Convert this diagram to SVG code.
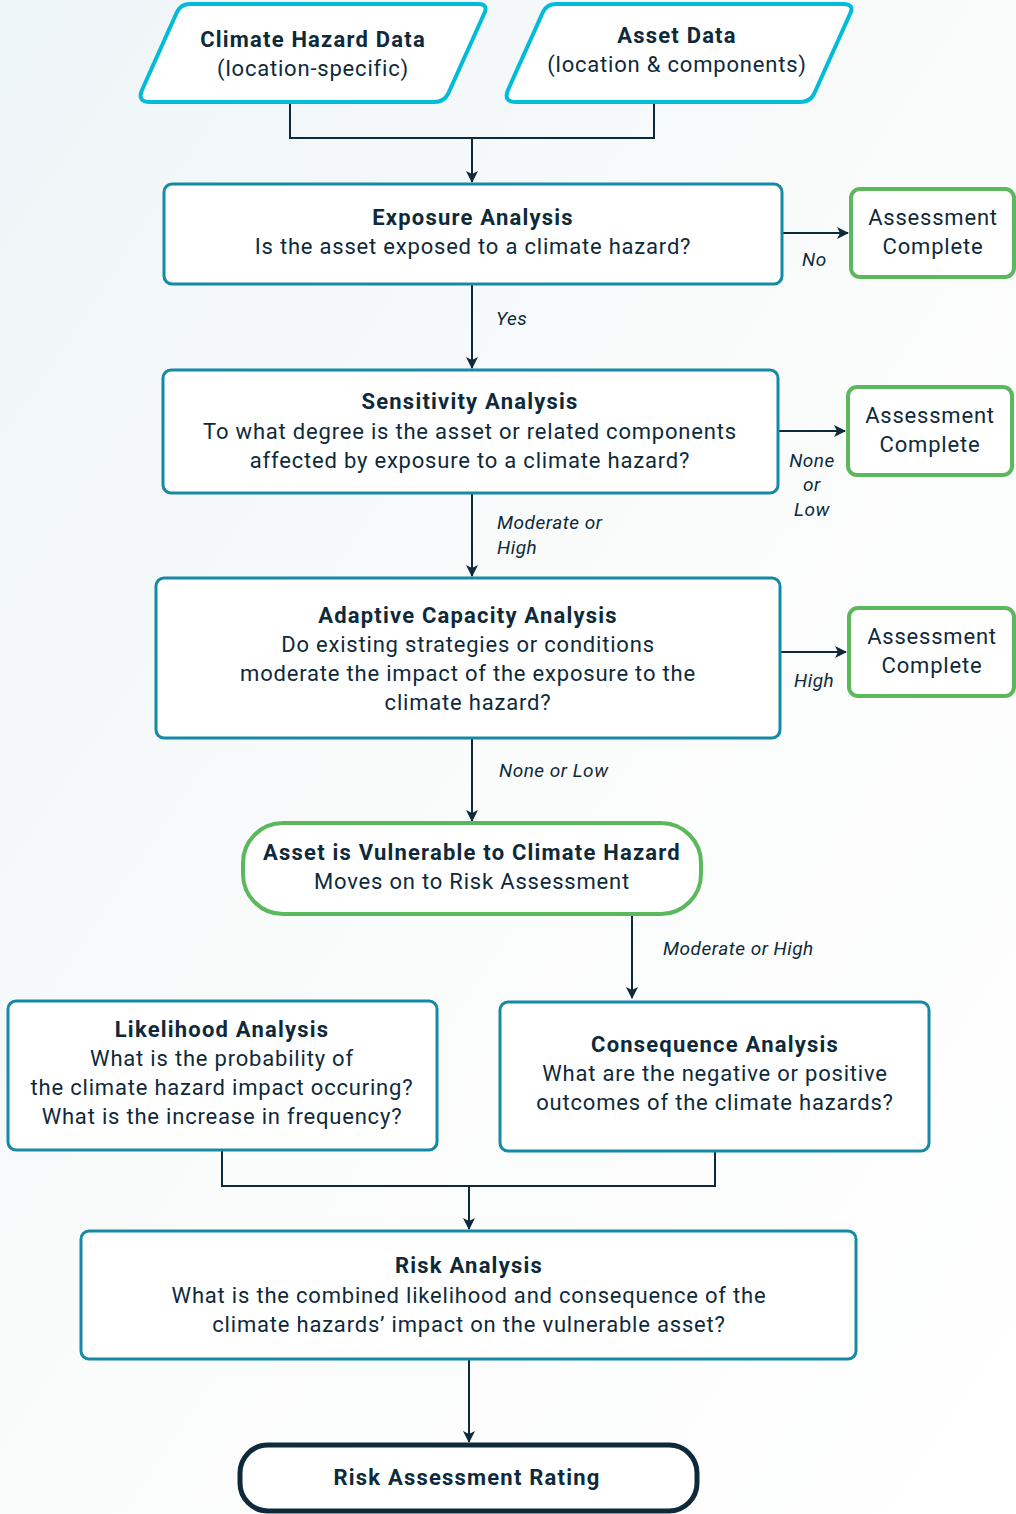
<svg xmlns="http://www.w3.org/2000/svg" width="1016" height="1514" viewBox="0 0 1016 1514">
<defs>
<linearGradient id="bg" x1="0" y1="0" x2="1" y2="1">
<stop offset="0" stop-color="#eef5f8"/>
<stop offset="0.5" stop-color="#fafbfb"/>
<stop offset="1" stop-color="#ffffff"/>
</linearGradient>
<marker id="arr" viewBox="0 0 12 12" refX="11" refY="6" markerWidth="12" markerHeight="12" markerUnits="userSpaceOnUse" orient="auto">
<path d="M0,0 L12,6 L0,12 L3,6 Z" fill="#0e2a3a"/>
</marker>
<style>
.t{font-family:Roboto,"Liberation Sans",sans-serif;fill:#0e2a3a;text-anchor:middle;font-size:22px;letter-spacing:0.8px}
.b{font-weight:bold;letter-spacing:1.2px}
.lbl{font-family:Roboto,"Liberation Sans",sans-serif;fill:#0e2a3a;font-size:19px;font-style:italic;letter-spacing:0.5px}
.in{fill:#ffffff;stroke:#00bcd9;stroke-width:4;stroke-linejoin:round}
.pr{fill:#ffffff;stroke:#1589a6;stroke-width:3}
.ok{fill:#ffffff;stroke:#5cb85c;stroke-width:4}
.end{fill:#ffffff;stroke:#0e2a3a;stroke-width:5}
.c{fill:none;stroke:#0e2a3a;stroke-width:2}
</style>
</defs>
<rect x="0" y="0" width="1016" height="1514" fill="url(#bg)"/>

<g id="connectors">
<path class="c" d="M290,104 V138 H654 V104"/>
<path class="c" d="M472,138 V182" marker-end="url(#arr)"/>
<path class="c" d="M782,233 H848" marker-end="url(#arr)"/>
<path class="c" d="M472,285 V368" marker-end="url(#arr)"/>
<path class="c" d="M779,431 H845" marker-end="url(#arr)"/>
<path class="c" d="M472,494 V576" marker-end="url(#arr)"/>
<path class="c" d="M781,652 H846" marker-end="url(#arr)"/>
<path class="c" d="M472,739 V821" marker-end="url(#arr)"/>
<path class="c" d="M632,915 V998" marker-end="url(#arr)"/>
<path class="c" d="M222,1151 V1186 H715 V1152"/>
<path class="c" d="M469,1186 V1229" marker-end="url(#arr)"/>
<path class="c" d="M469,1360 V1442" marker-end="url(#arr)"/>
<text class="lbl" x="802" y="266">No</text>
<text class="lbl" x="496" y="325">Yes</text>
<text class="lbl" x="812" y="467" text-anchor="middle">None</text>
<text class="lbl" x="812" y="491" text-anchor="middle">or</text>
<text class="lbl" x="812" y="516" text-anchor="middle">Low</text>
<text class="lbl" x="497" y="529">Moderate or</text>
<text class="lbl" x="497" y="554">High</text>
<text class="lbl" x="794" y="687">High</text>
<text class="lbl" x="499" y="777">None or Low</text>
<text class="lbl" x="663" y="955">Moderate or High</text>
</g>

<g id="climate-hazard-data">
<path class="in" d="M190,4 H478 Q489,4 484,14 L448,94 Q444,102 434,102 H150 Q137,102 142,90 L177,12 Q181,4 190,4 Z"/>
<text class="t b" x="313" y="47">Climate Hazard Data</text>
<text class="t" x="313" y="76">(location-specific)</text>
</g>

<g id="asset-data">
<path class="in" d="M556,4 H843 Q855,4 850,14 L814,94 Q810,102 800,102 H516 Q503,102 508,90 L543,12 Q547,4 556,4 Z"/>
<text class="t b" x="677" y="43">Asset Data</text>
<text class="t" x="677" y="72">(location &amp; components)</text>
</g>

<g id="exposure-analysis">
<rect class="pr" x="164" y="184" width="618" height="100" rx="8"/>
<text class="t b" x="473" y="225">Exposure Analysis</text>
<text class="t" x="473" y="254">Is the asset exposed to a climate hazard?</text>
</g>

<g id="complete-1">
<rect class="ok" x="851" y="189" width="163" height="88" rx="9"/>
<text class="t" x="933" y="225">Assessment</text>
<text class="t" x="933" y="254">Complete</text>
</g>

<g id="sensitivity-analysis">
<rect class="pr" x="163" y="370" width="615" height="123" rx="8"/>
<text class="t b" x="470" y="409">Sensitivity Analysis</text>
<text class="t" x="470" y="439">To what degree is the asset or related components</text>
<text class="t" x="470" y="468">affected by exposure to a climate hazard?</text>
</g>

<g id="complete-2">
<rect class="ok" x="848" y="387" width="164" height="88" rx="9"/>
<text class="t" x="930" y="423">Assessment</text>
<text class="t" x="930" y="452">Complete</text>
</g>

<g id="adaptive-capacity-analysis">
<rect class="pr" x="156" y="578" width="624" height="160" rx="8"/>
<text class="t b" x="468" y="623">Adaptive Capacity Analysis</text>
<text class="t" x="468" y="652">Do existing strategies or conditions</text>
<text class="t" x="468" y="681">moderate the impact of the exposure to the</text>
<text class="t" x="468" y="710">climate hazard?</text>
</g>

<g id="complete-3">
<rect class="ok" x="849" y="608" width="165" height="88" rx="9"/>
<text class="t" x="932" y="644">Assessment</text>
<text class="t" x="932" y="673">Complete</text>
</g>

<g id="vulnerable">
<rect class="ok" x="243" y="823" width="458" height="91" rx="40"/>
<text class="t b" x="472" y="860">Asset is Vulnerable to Climate Hazard</text>
<text class="t" x="472" y="889">Moves on to Risk Assessment</text>
</g>

<g id="likelihood-analysis">
<rect class="pr" x="8" y="1001" width="429" height="149" rx="8"/>
<text class="t b" x="222" y="1037">Likelihood Analysis</text>
<text class="t" x="222" y="1066">What is the probability of</text>
<text class="t" x="222" y="1095">the climate hazard impact occuring?</text>
<text class="t" x="222" y="1124">What is the increase in frequency?</text>
</g>

<g id="consequence-analysis">
<rect class="pr" x="500" y="1002" width="429" height="149" rx="8"/>
<text class="t b" x="715" y="1052">Consequence Analysis</text>
<text class="t" x="715" y="1081">What are the negative or positive</text>
<text class="t" x="715" y="1110">outcomes of the climate hazards?</text>
</g>

<g id="risk-analysis">
<rect class="pr" x="81" y="1231" width="775" height="128" rx="8"/>
<text class="t b" x="469" y="1273">Risk Analysis</text>
<text class="t" x="469" y="1303">What is the combined likelihood and consequence of the</text>
<text class="t" x="469" y="1332">climate hazards’ impact on the vulnerable asset?</text>
</g>

<g id="risk-assessment-rating">
<rect class="end" x="240" y="1445" width="457" height="66" rx="28"/>
<text class="t b" x="467" y="1485">Risk Assessment Rating</text>
</g>
</svg>
